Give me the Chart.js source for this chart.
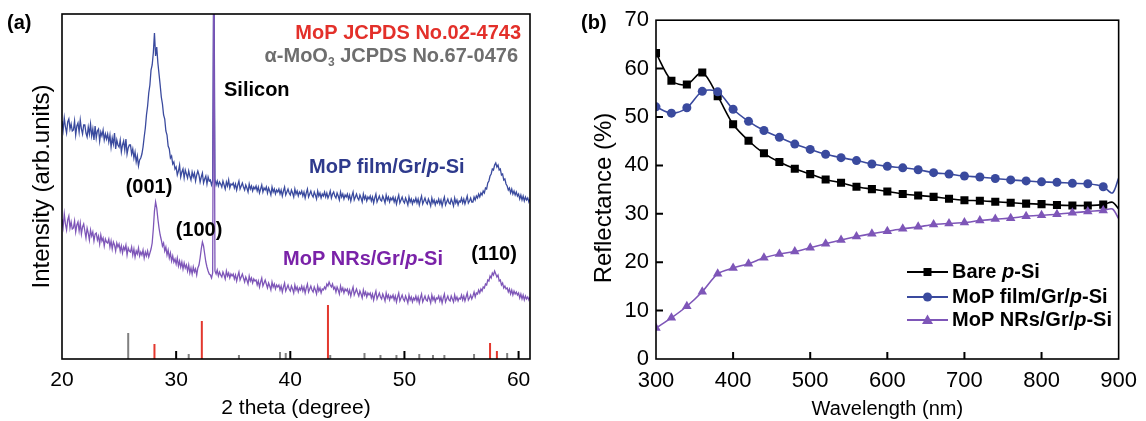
<!DOCTYPE html>
<html>
<head>
<meta charset="utf-8">
<script src="https://cdn.jsdelivr.net/npm/chart.js@4.4.1/dist/chart.umd.min.js"></script>
<style>
  body { margin: 0; background: #fff; }
  #wrap { position: relative; width: 1146px; height: 421px; }
  canvas { position: absolute; top: 0; }
</style>
</head>
<body>
<div id="wrap">
  <canvas id="xrdChart" width="573" height="421" style="left:0"></canvas>
  <canvas id="reflChart" width="573" height="421" style="left:573px"></canvas>
</div>
<script>
// ---- panel (a): XRD, 2 theta sampled every 0.1 deg from 20 to 61 (one row per degree) ----
const thetaStart = 20, thetaStep = 0.1;
const filmIntensity = [
  238,229,241,232,226,237,240,230,235,228, // 20
  229,238,224,233,236,227,239,230,225,234, // 21
  234,226,222,232,225,235,223,230,219,233, // 22
  221,228,230,218,227,223,229,219,225,220, // 23
  225,217,224,212,221,215,226,210,219,214, // 24
  212,219,207,214,218,209,220,205,211,214, // 25
  214,205,210,201,207,197,203,193,199,201, // 26
  205,212,222,231,244,253,266,274,289,294, // 27
  306,326,303,312,296,285,274,262,255,244, // 28
  240,228,224,213,210,201,203,195,197,190, // 29
  192,184,188,194,182,187,190,181,189,185, // 30
  181,188,183,179,187,182,186,178,184,188, // 31
  184,177,182,186,176,180,183,175,182,178, // 32
  179,174,178,420,180,174,178,173,177,175, // 33
  172,178,174,170,177,173,179,171,175,174, // 34
  176,171,175,169,174,178,170,173,176,172, // 35
  169,174,171,167,175,170,173,168,172,170, // 36
  173,168,172,166,170,174,167,171,169,172, // 37
  166,171,168,164,172,167,170,165,169,167, // 38
  170,165,169,163,168,172,164,167,170,166, // 39
  164,169,166,162,170,165,168,163,167,165, // 40
  168,163,167,161,166,170,162,165,168,164, // 41
  162,167,164,160,168,163,166,161,165,163, // 42
  167,162,166,161,164,168,161,165,167,163, // 43
  161,166,163,159,167,162,165,160,164,162, // 44
  165,160,164,158,163,167,159,162,165,161, // 45
  159,164,161,157,165,160,163,158,162,160, // 46
  163,158,162,156,161,165,157,160,163,159, // 47
  158,163,160,156,164,159,162,157,161,159, // 48
  162,157,161,155,160,164,156,159,162,158, // 49
  156,161,158,154,162,157,160,155,159,157, // 50
  161,156,160,154,159,163,155,158,161,157, // 51
  155,160,157,153,161,156,159,154,158,156, // 52
  160,155,159,153,158,162,154,157,160,156, // 53
  155,160,157,153,161,156,159,154,158,157, // 54
  161,156,160,155,159,163,156,158,161,157, // 55
  157,162,159,163,161,165,162,166,164,168, // 56
  166,171,170,176,178,183,185,190,189,194, // 57
  196,192,194,189,190,184,185,179,180,175, // 58
  173,169,171,166,170,165,168,164,167,163, // 59
  165,160,164,159,163,158,162,159,161,157, // 60
  160
];
const nrsIntensity = [
  140,132,145,135,129,139,143,131,137,130, // 20
  131,138,127,134,137,128,136,125,132,135, // 21
  128,121,131,126,119,129,123,127,118,125, // 22
  126,119,123,115,124,118,121,113,120,117, // 23
  116,120,112,118,110,117,114,108,116,112, // 24
  115,108,113,106,112,109,114,104,111,108, // 25
  107,112,104,110,102,108,105,111,103,107, // 26
  104,109,101,107,103,108,102,106,110,116, // 27
  130,148,157,151,140,131,124,119,113,116, // 28
  108,112,104,109,101,106,98,103,97,100,   // 29
  95,101,93,98,92,97,90,96,91,94,          // 30
  88,94,86,91,85,92,87,90,84,91,           // 31
  94,101,110,117,113,105,97,92,88,85,      // 32
  84,81,86,400,88,85,89,83,87,84,          // 33
  82,87,84,80,88,83,86,81,85,83,           // 34
  85,80,84,78,83,87,79,82,85,81,           // 35
  77,82,79,75,83,78,81,76,80,78,           // 36
  79,74,78,72,77,81,73,76,79,75,           // 37
  71,76,73,69,77,72,75,70,74,72,           // 38
  74,69,73,67,72,76,68,71,74,70,           // 39
  68,73,70,66,74,69,72,67,71,69,           // 40
  73,68,72,66,71,75,67,70,73,69,           // 41
  67,72,69,65,73,68,71,66,70,69,           // 42
  72,70,75,73,77,74,72,75,70,72,           // 43
  67,72,69,65,73,68,71,66,70,68,           // 44
  70,65,69,63,68,72,64,67,70,66,           // 45
  63,68,65,61,69,64,67,62,66,64,           // 46
  66,61,65,59,64,68,60,63,66,62,           // 47
  60,65,62,58,66,61,64,59,63,61,           // 48
  64,59,63,57,62,66,58,61,64,60,           // 49
  58,63,60,56,64,59,62,57,61,59,           // 50
  63,58,62,56,61,65,57,60,63,59,           // 51
  58,63,60,56,64,59,62,57,61,60,           // 52
  63,58,62,56,61,65,57,60,63,59,           // 53
  58,63,60,57,64,59,62,58,61,60,           // 54
  64,59,63,58,62,66,59,61,64,60,           // 55
  63,67,62,66,65,69,66,70,68,72,           // 56
  71,75,74,79,78,83,81,86,84,88,           // 57
  85,82,84,78,79,74,76,71,73,70,           // 58
  71,67,70,65,69,64,68,65,67,64,           // 59
  66,61,65,60,64,59,63,60,62,59,           // 60
  62
];
// reference patterns (stick positions and heights)
const mopPos = [28.1, 32.25, 43.3, 57.5, 58.1];
const mopHeight = [15, 38, 54, 16, 8];
const mooPos = [25.8, 31.1, 35.5, 39.1, 39.6, 43.5, 46.5, 47.9, 49.3, 51.3, 52.5, 53.5, 56.1, 59.0];
const mooHeight = [26, 5, 4, 7, 6, 4, 6, 4, 4, 5, 4, 4, 5, 6];
const xrdTicks = [20, 30, 40, 50, 60];

// ---- panel (b): reflectance ----
const wavelength = [300,320,340,360,380,400,420,440,460,480,500,520,540,560,580,600,
  620,640,660,680,700,720,740,760,780,800,820,840,860,880,892,900];
const bareSi = [63.2,57.5,56.7,59.2,54.3,48.5,45.1,42.5,40.7,39.3,38.2,37.1,36.4,35.6,35.1,34.6,
  34.1,33.8,33.5,33.1,32.8,32.7,32.5,32.3,32.1,32.0,31.8,31.7,31.7,31.9,32.4,31.0];
const mopFilm = [52.1,50.8,51.9,55.3,55.2,51.6,49.1,47.2,45.8,44.4,43.3,42.3,41.6,41.0,40.3,39.8,
  39.5,39.1,38.5,38.2,37.8,37.6,37.3,37.0,36.8,36.6,36.5,36.3,36.2,35.6,34.3,37.4];
const mopNRs = [6.4,8.5,10.9,13.9,17.6,18.8,19.7,20.9,21.7,22.2,23.0,23.8,24.6,25.3,25.9,26.4,
  26.9,27.3,27.8,28.0,28.2,28.6,28.9,29.1,29.5,29.7,29.9,30.2,30.5,30.7,31.0,29.0];
const markerCount = 30;
const reflXTicks = [400, 500, 600, 700, 800];
const reflYTicks = [10, 20, 30, 40, 50, 60];

const FONT = '"Liberation Sans", Arial, sans-serif';
const BLUE = '#3a4a9e', PURPLE = '#7e56b8';

function drawRich(ctx, parts, x, y, align, size, color) {
  const fontFor = s => s === 'i' ? `italic bold ${size}px ${FONT}`
    : s === 'sub' ? `bold ${Math.round(size * 0.62)}px ${FONT}` : `bold ${size}px ${FONT}`;
  let w = 0;
  parts.forEach(([t, s]) => { ctx.font = fontFor(s); w += ctx.measureText(t).width; });
  let cx = align === 'right' ? x - w : align === 'center' ? x - w / 2 : x;
  ctx.fillStyle = color;
  ctx.textBaseline = 'middle';
  ctx.textAlign = 'left';
  parts.forEach(([t, s]) => {
    ctx.font = fontFor(s);
    ctx.fillText(t, cx, s === 'sub' ? y + size * 0.32 : y);
    cx += ctx.measureText(t).width;
  });
}

// frame round the plot area plus inward tick marks
const frameTicks = {
  id: 'frameTicks',
  afterDatasetsDraw(chart, args, opts) {
    const { ctx, chartArea: a, scales: { x, y } } = chart;
    ctx.save();
    ctx.strokeStyle = '#000';
    ctx.lineWidth = opts.tickWidth;
    ctx.beginPath();
    (opts.x || []).forEach(v => {
      const px = x.getPixelForValue(v);
      ctx.moveTo(px, a.bottom); ctx.lineTo(px, a.bottom - opts.len);
    });
    (opts.y || []).forEach(v => {
      const py = y.getPixelForValue(v);
      ctx.moveTo(a.left, py); ctx.lineTo(a.left + opts.len, py);
    });
    ctx.stroke();
    ctx.lineWidth = opts.frameWidth;
    ctx.strokeRect(a.left, a.top, a.right - a.left, a.bottom - a.top);
    ctx.restore();
  }
};

const xrdNotes = {
  id: 'xrdNotes',
  afterDraw(chart) {
    const ctx = chart.ctx;
    ctx.save();
    drawRich(ctx, [['(a)', '']], 7, 23, 'left', 20, '#000');
    drawRich(ctx, [['MoP JCPDS No.02-4743', '']], 521, 33, 'right', 20, '#e3302a');
    drawRich(ctx, [['α-MoO', ''], ['3', 'sub'], [' JCPDS No.67-0476', '']], 518, 56, 'right', 20, '#6e6e6e');
    drawRich(ctx, [['Silicon', '']], 224, 90, 'left', 20, '#000');
    drawRich(ctx, [['MoP film/Gr/', ''], ['p', 'i'], ['-Si', '']], 309, 167, 'left', 20, '#2e3a8c');
    drawRich(ctx, [['(001)', '']], 149, 187, 'center', 20, '#000');
    drawRich(ctx, [['(100)', '']], 199, 230, 'center', 20, '#000');
    drawRich(ctx, [['MoP NRs/Gr/', ''], ['p', 'i'], ['-Si', '']], 283, 259, 'left', 20, '#7a22a8');
    drawRich(ctx, [['(110)', '']], 494, 254, 'center', 20, '#000');
    ctx.restore();
  }
};

const reflNotes = {
  id: 'reflNotes',
  afterDraw(chart) {
    const ctx = chart.ctx;
    ctx.save();
    drawRich(ctx, [['(b)', '']], 8, 23, 'left', 20, '#000');
    // y axis title
    ctx.save();
    ctx.translate(31, 198);
    ctx.rotate(-Math.PI / 2);
    ctx.font = `24px ${FONT}`;
    ctx.fillStyle = '#000';
    ctx.textAlign = 'center';
    ctx.textBaseline = 'middle';
    ctx.fillText('Reflectance (%)', 0, 0);
    ctx.restore();
    // legend
    const rows = [
      { y: 272, color: '#000', style: 'rect', parts: [['Bare ', ''], ['p', 'i'], ['-Si', '']] },
      { y: 297, color: BLUE, style: 'circle', parts: [['MoP film/Gr/', ''], ['p', 'i'], ['-Si', '']] },
      { y: 320, color: PURPLE, style: 'triangle', parts: [['MoP NRs/Gr/', ''], ['p', 'i'], ['-Si', '']] }
    ];
    rows.forEach(r => {
      ctx.strokeStyle = r.color;
      ctx.fillStyle = r.color;
      ctx.lineWidth = 2;
      ctx.beginPath(); ctx.moveTo(334, r.y); ctx.lineTo(375, r.y); ctx.stroke();
      const cx = 354.5;
      ctx.beginPath();
      if (r.style === 'rect') ctx.rect(cx - 4, r.y - 4, 8, 8);
      else if (r.style === 'circle') ctx.arc(cx, r.y, 4.5, 0, Math.PI * 2);
      else { ctx.moveTo(cx, r.y - 5.5); ctx.lineTo(cx + 5.5, r.y + 4); ctx.lineTo(cx - 5.5, r.y + 4); ctx.closePath(); }
      ctx.fill();
      drawRich(ctx, r.parts, 379, r.y, 'left', 20, '#000');
    });
    ctx.restore();
  }
};

function sticks(pos, h) {
  const pts = [];
  pos.forEach((p, i) => { pts.push({ x: p, y: 0 }, { x: p, y: h[i] }, { x: p, y: null }); });
  return pts;
}
const asPoints = vals => vals.map((v, i) => ({ x: thetaStart + i * thetaStep, y: v }));

new Chart(document.getElementById('xrdChart'), {
  type: 'line',
  data: {
    datasets: [
      { data: sticks(mooPos, mooHeight), borderColor: '#808080', borderWidth: 2, pointRadius: 0, spanGaps: false },
      { data: sticks(mopPos, mopHeight), borderColor: '#e3382e', borderWidth: 2, pointRadius: 0, spanGaps: false },
      { data: asPoints(nrsIntensity), borderColor: PURPLE, borderWidth: 1.3, pointRadius: 0, tension: 0 },
      { data: asPoints(filmIntensity), borderColor: BLUE, borderWidth: 1.3, pointRadius: 0, tension: 0 }
    ]
  },
  options: {
    responsive: false,
    maintainAspectRatio: false,
    devicePixelRatio: 1,
    animation: false,
    layout: { padding: { top: 14, right: 43, left: 0, bottom: 0 } },
    plugins: {
      legend: { display: false },
      tooltip: { enabled: false },
      frameTicks: { x: xrdTicks.slice(1), len: 8, tickWidth: 2, frameWidth: 1.6 }
    },
    scales: {
      x: {
        type: 'linear', min: 20, max: 61,
        afterFit: s => { s.height = 62; },
        grid: { display: false, drawTicks: false },
        border: { display: false },
        ticks: { stepSize: 10, includeBounds: false, autoSkip: false, maxRotation: 0, color: '#000', padding: 9,
          font: { family: FONT, size: 21 }, callback: v => xrdTicks.includes(v) ? v : '' },
        title: { display: true, text: '2 theta (degree)', color: '#000', padding: 0, font: { family: FONT, size: 21 } }
      },
      y: {
        min: 0, max: 345,
        afterFit: s => { s.width = 62; },
        grid: { display: false, drawTicks: false },
        border: { display: false },
        ticks: { display: false },
        title: { display: true, text: 'Intensity (arb.units)', color: '#000', padding: { top: 28, bottom: 0 },
          font: { family: FONT, size: 24 } }
      }
    }
  },
  plugins: [frameTicks, xrdNotes]
});

const reflPoints = vals => vals.map((v, i) => ({ x: wavelength[i], y: v }));
const markerRadius = r => ctx => ctx.dataIndex < markerCount ? r : 0;

new Chart(document.getElementById('reflChart'), {
  type: 'line',
  data: {
    datasets: [
      { label: 'MoP NRs/Gr/p-Si', data: reflPoints(mopNRs), borderColor: PURPLE, backgroundColor: PURPLE,
        borderWidth: 1.6, pointStyle: 'triangle', pointRadius: markerRadius(5.5), pointBorderWidth: 0, tension: 0.3 },
      { label: 'MoP film/Gr/p-Si', data: reflPoints(mopFilm), borderColor: BLUE, backgroundColor: BLUE,
        borderWidth: 1.6, pointStyle: 'circle', pointRadius: markerRadius(4.5), pointBorderWidth: 0, tension: 0.3 },
      { label: 'Bare p-Si', data: reflPoints(bareSi), borderColor: '#000', backgroundColor: '#000',
        borderWidth: 1.6, pointStyle: 'rect', pointRadius: markerRadius(5.7), pointBorderWidth: 0, tension: 0.3 }
    ]
  },
  options: {
    responsive: false,
    maintainAspectRatio: false,
    devicePixelRatio: 1,
    animation: false,
    layout: { padding: { top: 15, right: 23, left: 0, bottom: 0 } },
    plugins: {
      legend: { display: false },
      tooltip: { enabled: false },
      frameTicks: { x: reflXTicks, y: reflYTicks, len: 7, tickWidth: 2, frameWidth: 1.6 }
    },
    scales: {
      x: {
        type: 'linear', min: 300, max: 900,
        afterFit: s => { s.height = 62; },
        grid: { display: false, drawTicks: false },
        border: { display: false },
        ticks: { stepSize: 100, color: '#000', padding: 9, font: { family: FONT, size: 22 } },
        title: { display: true, text: 'Wavelength (nm)', color: '#000', padding: 0, font: { family: FONT, size: 20 } }
      },
      y: {
        min: 0, max: 70,
        afterFit: s => { s.width = 83; },
        grid: { display: false, drawTicks: false },
        border: { display: false },
        ticks: { stepSize: 10, color: '#000', padding: 7, font: { family: FONT, size: 22 } }
      }
    }
  },
  plugins: [frameTicks, reflNotes]
});
</script>
</body>
</html>
